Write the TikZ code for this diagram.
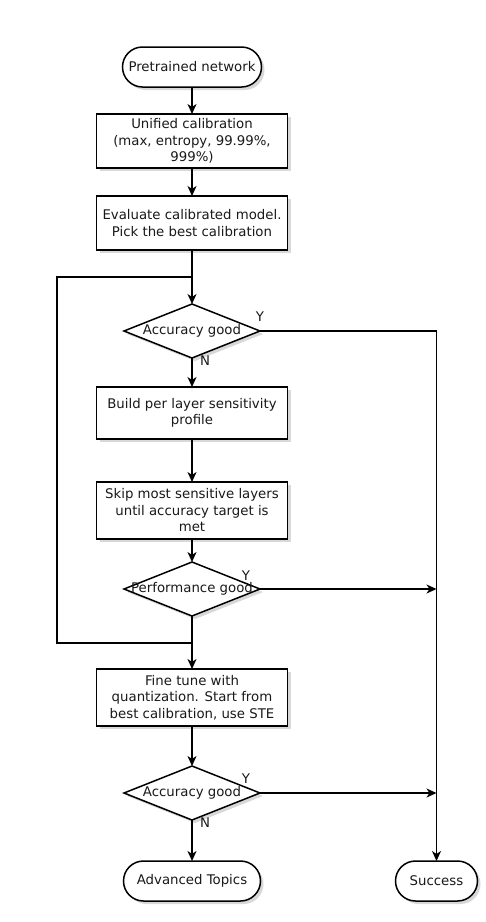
\documentclass[tikz,border=0pt]{standalone}
\usepackage{fontspec}
\setmainfont{DejaVu Sans}
\usetikzlibrary{shapes.geometric, arrows.meta, positioning, shadows}
\definecolor{flowText}{RGB}{25,25,25}
\tikzset{
    flow/.style={>={Stealth[length=10pt, width=9pt, inset=3pt]}, line width=1.5pt,
                 line join=miter, font=\fontsize{13.3}{16.5}\selectfont, text=flowText},
    softshadow/.style={drop shadow={shadow xshift=3pt, shadow yshift=-3pt,
                       fill=black!30, opacity=0.5}},
    stepbox/.style={draw, fill=white, softshadow, minimum width=191pt, outer sep=0pt,
                    minimum height=54pt, align=center, inner xsep=3pt, inner ysep=2pt},
    terminal/.style={draw, fill=white, softshadow, rounded corners=20pt, outer sep=0pt,
                     minimum height=40pt, inner xsep=0pt},
    decision/.style={draw, fill=white, softshadow, diamond, aspect=2.5, outer sep=0pt,
                     minimum width=136pt, minimum height=54pt, inner sep=0pt},
    arrow/.style={->, draw=black},
    link/.style={draw=black},
    yn/.style={inner sep=0pt, font=\fontsize{13.3}{15}\selectfont},
}

\begin{document}
\begin{tikzpicture}[flow]

\path[use as bounding box, fill=white] (0,0) rectangle (486pt,-922pt);

% ─── Main column ────────────────────────────────────────────────────────
\node[terminal, minimum width=139pt] (pre) at (192pt,-67pt) {Pretrained network};
\node[stepbox, below=27pt of pre]   (calib) {Unified calibration\\(max, entropy, 99.99\%,\\999\%)};
\node[stepbox, below=28pt of calib] (evalm) {Evaluate calibrated model.\\Pick the best calibration};
\node[decision, below=54pt of evalm] (acc1) {\makebox[0pt]{Accuracy good}};
\node[stepbox, below=29pt of acc1, minimum height=52pt] (sens) {Build per layer sensitivity\\profile};
\node[stepbox, below=43pt of sens, minimum height=57pt] (skip) {Skip most sensitive layers\\until accuracy target is\\met};
\node[decision, below=23pt of skip] (perf)  {\makebox[0pt]{Performance good}};
\node[stepbox, below=53pt of perf, minimum height=57pt] (fine) {Fine tune with\\quantization. Start from\\best calibration, use STE};
\node[decision, below=40pt of fine] (acc2)  {\makebox[0pt]{Accuracy good}};
\node[terminal, minimum width=137pt, below=41pt of acc2] (adv) {Advanced Topics};
\node[terminal, minimum width=82pt, right=135pt of adv]  (done) {Success};

% ─── Junctions ──────────────────────────────────────────────────────────
\coordinate[below=27pt of evalm] (join1);
\coordinate[below=27pt of perf]  (join2);
\coordinate[left=135pt of join1] (loopcorner);
\coordinate (meet1) at (perf.east -| done.north);
\coordinate (meet2) at (acc2.east -| done.north);

% ─── Connectors ─────────────────────────────────────────────────────────
\draw[arrow] (pre)   -- (calib);
\draw[arrow] (calib) -- (evalm);
\draw[link]  (evalm) -- (join1);
\draw[arrow] (join1) -- (acc1);
\draw[link]  (join1) -- (loopcorner) |- (join2);
\draw[arrow] (acc1)  -- (sens);
\draw[arrow] (sens)  -- (skip);
\draw[arrow] (skip)  -- (perf);
\draw[link]  (perf)  -- (join2);
\draw[arrow] (join2) -- (fine);
\draw[arrow] (fine)  -- (acc2);
\draw[arrow] (acc2)  -- (adv);

\draw[arrow] (acc1.east) -| (done.north);
\draw[arrow] (perf) -- (meet1);
\draw[arrow] (acc2) -- (meet2);

% ─── Y / N labels ───────────────────────────────────────────────────────
\node[yn] at ([yshift=14pt]acc1.east) {Y};
\node[yn] at ([xshift=13pt, yshift=-3pt]acc1.south) {N};
\node[yn] at ([xshift=-14pt, yshift=13pt]perf.east) {Y};
\node[yn] at ([xshift=-14pt, yshift=14pt]acc2.east) {Y};
\node[yn] at ([xshift=13pt, yshift=-3pt]acc2.south) {N};

\end{tikzpicture}
\end{document}
